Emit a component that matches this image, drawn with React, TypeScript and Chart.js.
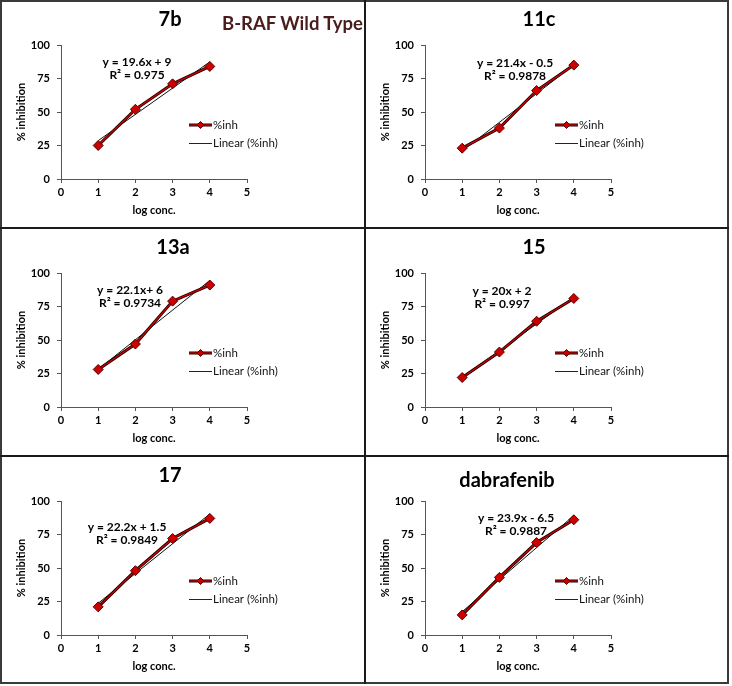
import React, { useEffect, useRef } from "react";
import { Chart, registerables } from "chart.js";
Chart.register(...registerables);

// ---------- data ----------
const xValues = [1, 2, 3, 4];
const trendX = [1, 4];

const inh7b = [25, 52, 71, 84];
const inh11c = [23, 38, 66, 85];
const inh13a = [28, 47, 79, 91];
const inh15 = [22, 41, 64, 81];
const inh17 = [21, 48, 72, 87];
const inhDabrafenib = [15, 43, 69, 86];

const trend7b = [28.6, 87.4];
const trend11c = [20.9, 85.1];
const trend13a = [28.1, 94.4];
const trend15 = [22, 82];
const trend17 = [23.7, 90.3];
const trendDabrafenib = [17.4, 89.1];

const titles = ["7b", "11c", "13a", "15", "17", "dabrafenib"];
const equations = ["y = 19.6x + 9", "y = 21.4x - 0.5", "y = 22.1x+ 6", "y = 20x + 2", "y = 22.2x + 1.5", "y = 23.9x - 6.5"];
const rSquared = ["R² = 0.975", "R² = 0.9878", "R² = 0.9734", "R² = 0.997", "R² = 0.9849", "R² = 0.9887"];
const seriesValues = [inh7b, inh11c, inh13a, inh15, inh17, inhDabrafenib];
const trendValues = [trend7b, trend11c, trend13a, trend15, trend17, trendDabrafenib];

const xTickMin = 0, xTickMax = 5, xTickStep = 1;
const yTickMin = 0, yTickMax = 100, yTickStep = 25;
const seriesLabel = "%inh";
const trendLabel = "Linear (%inh)";
const xAxisTitle = "log conc.";
const yAxisTitle = "% inhibition";
const figureTitle = "B-RAF Wild Type";

// ---------- layout (not data) ----------
const FONT = "Lato, 'Liberation Sans', sans-serif";
const W = 362;
const H = 226;
const panelPos = [
  { left: 0, top: 0, titleX: 170, titleY: 20, eqX: 137, eqY: 62 },
  { left: 364, top: 0, titleX: 175, titleY: 20, eqX: 151, eqY: 63 },
  { left: 0, top: 228, titleX: 173, titleY: 20, eqX: 130, eqY: 62 },
  { left: 364, top: 228, titleX: 170, titleY: 20, eqX: 138, eqY: 63 },
  { left: 0, top: 456, titleX: 170, titleY: 20, eqX: 127, eqY: 71 },
  { left: 364, top: 456, titleX: 143, titleY: 25, eqX: 152, eqY: 62 },
];

function Panel({ idx }: { idx: number }) {
  const ref = useRef<HTMLCanvasElement>(null);
  const pos = panelPos[idx];
  useEffect(() => {
    const canvas = ref.current!;
    const pts = xValues.map((x, i) => ({ x, y: seriesValues[idx][i] }));
    const tpts = trendX.map((x, i) => ({ x, y: trendValues[idx][i] }));
    const legX = pos.left === 0 ? 189 : 191;
    const overlay = {
      id: "overlay" + idx,
      afterDraw(chart: any) {
        const ctx = chart.ctx as CanvasRenderingContext2D;
        ctx.save();
        ctx.fillStyle = "#000";
        ctx.textAlign = "center";
        ctx.textBaseline = "middle";
        ctx.font = `bold 20px ${FONT}`;
        ctx.fillText(titles[idx], pos.titleX, pos.titleY);
        ctx.font = `bold 12px ${FONT}`;
        ctx.fillText(equations[idx], pos.eqX, pos.eqY);
        ctx.fillText(rSquared[idx], pos.eqX, pos.eqY + 13);
        // legend
        const y1 = 125, y2 = 143;
        ctx.lineCap = "butt";
        ctx.strokeStyle = "#1b0000";
        ctx.lineWidth = 3;
        ctx.beginPath(); ctx.moveTo(legX, y1); ctx.lineTo(legX + 23, y1); ctx.stroke();
        ctx.strokeStyle = "#d00000";
        ctx.lineWidth = 1.3;
        ctx.beginPath(); ctx.moveTo(legX, y1); ctx.lineTo(legX + 23, y1); ctx.stroke();
        const cx = legX + 11.5;
        ctx.fillStyle = "#c80000";
        ctx.strokeStyle = "#5a0000";
        ctx.lineWidth = 1;
        ctx.beginPath();
        ctx.moveTo(cx, y1 - 3.5); ctx.lineTo(cx + 3.5, y1); ctx.lineTo(cx, y1 + 3.5); ctx.lineTo(cx - 3.5, y1); ctx.closePath();
        ctx.fill(); ctx.stroke();
        ctx.strokeStyle = "#222";
        ctx.lineWidth = 1;
        ctx.beginPath(); ctx.moveTo(legX, y2 + 0.5); ctx.lineTo(legX + 23, y2 + 0.5); ctx.stroke();
        ctx.fillStyle = "#111";
        ctx.textAlign = "left";
        ctx.font = `11.5px ${FONT}`;
        ctx.fillText(seriesLabel, legX + 24, y1);
        ctx.fillText(trendLabel, legX + 24, y2);
        ctx.restore();
      },
    };
    const tickFont = { family: FONT, size: 11, weight: "bold" as const };
    const chart = new Chart(canvas, {
      type: "line",
      data: {
        datasets: [
          { label: seriesLabel + " outline", data: pts, borderColor: "#1b0000", borderWidth: 3, pointRadius: 0, order: 3 },
          { label: trendLabel, data: tpts, borderColor: "#111", borderWidth: 1, pointRadius: 0, order: 2 },
          {
            label: seriesLabel, data: pts, borderColor: "#d00000", borderWidth: 1.3, order: 1,
            pointStyle: "rectRot", pointRadius: 5, pointBackgroundColor: "#cc0000", pointBorderColor: "#5a0000", pointBorderWidth: 1,
          },
        ],
      },
      options: {
        responsive: false,
        animation: false,
        events: [],
        layout: { padding: { left: 0, top: 45, right: W - 247, bottom: 0 } },
        plugins: { legend: { display: false }, title: { display: false }, tooltip: { enabled: false } },
        scales: {
          x: {
            type: "linear", min: xTickMin, max: xTickMax,
            ticks: { stepSize: xTickStep, font: tickFont, color: "#000", padding: 3 },
            grid: { drawOnChartArea: false, tickLength: 4, color: "#555" },
            border: { color: "#555", width: 1 },
            title: { display: true, text: xAxisTitle, font: tickFont, color: "#000", padding: { top: 0, bottom: 9 } },
            afterFit(s: any) { s.height = 47; },
          },
          y: {
            type: "linear", min: yTickMin, max: yTickMax,
            ticks: { stepSize: yTickStep, font: tickFont, color: "#000", padding: 7 },
            grid: { drawOnChartArea: false, tickLength: 4, color: "#555" },
            border: { color: "#555", width: 1 },
            title: { display: true, text: yAxisTitle, font: tickFont, color: "#000", padding: { top: 15, bottom: 0 } },
            afterFit(s: any) { s.width = 61; },
          },
        },
      },
      plugins: [overlay],
    });
    return () => chart.destroy();
  }, [idx]);
  return (
    <canvas
      ref={ref}
      width={W}
      height={H}
      style={{ position: "absolute", left: pos.left, top: pos.top, width: W, height: H }}
    />
  );
}

export default function App() {
  const line = (s: React.CSSProperties) => <div style={{ position: "absolute", background: "#1a1a1a", zIndex: 2, ...s }} />;
  return (
    <div style={{ position: "absolute", left: 0, top: 0, width: 732, height: 686, background: "#fff", overflow: "hidden" }}>
      {titles.map((_, i) => (
        <Panel key={i} idx={i} />
      ))}
      <div style={{ position: "absolute", left: 0, top: 0, width: 729, height: 684, border: "2px solid #3a3a3a", boxSizing: "border-box", zIndex: 2 }} />
      {line({ left: 364, top: 0, width: 2, height: 684 })}
      {line({ left: 0, top: 227, width: 729, height: 2 })}
      {line({ left: 0, top: 455, width: 729, height: 2 })}
      <div
        style={{
          position: "absolute", left: 222, top: 11, fontFamily: FONT, fontWeight: "bold", fontSize: 18.5,
          color: "#4a1c1c", whiteSpace: "nowrap", zIndex: 3, lineHeight: "24px",
        }}
      >
        {figureTitle}
      </div>
    </div>
  );
}
